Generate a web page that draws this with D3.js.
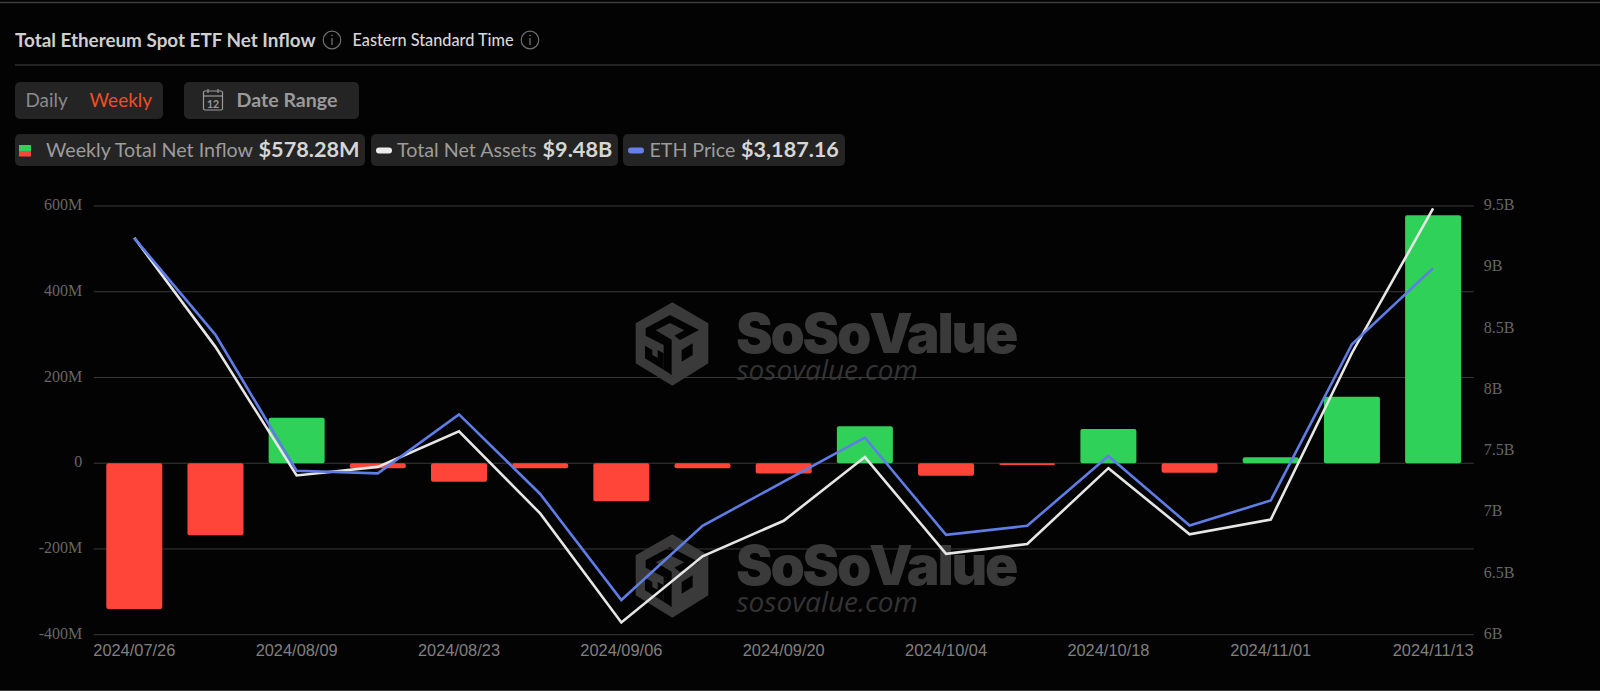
<!DOCTYPE html>
<html>
<head>
<meta charset="utf-8">
<script src="https://cdn.jsdelivr.net/npm/d3@7"></script>
<style>
    html, body { margin: 0; padding: 0; background: #030303; overflow: hidden; }
    svg { display: block; }
    .ui { font-family: Lato, sans-serif; }
</style>
</head>
<body>
<svg width="1600" height="691"></svg>
<script>
// values
var dates = ["2024/07/26", "2024/08/02", "2024/08/09", "2024/08/16", "2024/08/23", "2024/08/30",
    "2024/09/06", "2024/09/13", "2024/09/20", "2024/09/27", "2024/10/04", "2024/10/11",
    "2024/10/18", "2024/10/25", "2024/11/01", "2024/11/08", "2024/11/13"]
var netInflow = [-340, -168, 106, -12, -43, -12, -89, -12, -24, 86, -29, -4, 80, -22, 14, 155, 578.28]
var netAssets = [9.24, 8.35, 7.30, 7.37, 7.66, 6.99, 6.10, 6.64, 6.93, 7.45, 6.66, 6.74, 7.36, 6.82, 6.94, 8.30, 9.48]
var ethPrice = [3270, 3003, 2627, 2620, 2783, 2563, 2270, 2475, 2597, 2719, 2450, 2475, 2668, 2476, 2545, 2977, 3187.16]

var leftTicks = [-400, -200, 0, 200, 400, 600]
var rightTicks = [6, 6.5, 7, 7.5, 8, 8.5, 9, 9.5]
var priceDomain = [2174, 3359]  // the price axis is hidden in the original

var margin = { left: 93.7, right: 126.3, top: 206, bottom: 56.3 }
var width = 1600, height = 691

var svg = d3.select("svg")

var xScale = d3.scaleBand()
    .domain(dates)
    .range([margin.left, width - margin.right])
    .paddingInner(0.31)
    .paddingOuter(0.155)

var yLeft = d3.scaleLinear().domain([-400, 600]).range([height - margin.bottom, margin.top])
var yRight = d3.scaleLinear().domain([6, 9.5]).range([height - margin.bottom, margin.top])
var yPrice = d3.scaleLinear().domain(priceDomain).range([height - margin.bottom, margin.top])

function center(d) { return xScale(d) + xScale.bandwidth() / 2 }

// page frame
svg.append("line").attr("x1", 0).attr("x2", width).attr("y1", 2.5).attr("y2", 2.5).attr("stroke", "#3c3c3c").attr("stroke-width", 1.5)
svg.append("line").attr("x1", 0).attr("x2", width).attr("y1", 690.5).attr("y2", 690.5).attr("stroke", "#3c3c3c")

// header
var ui = svg.append("g").attr("class", "ui")

ui.append("text").attr("x", 15).attr("y", 46.5).attr("font-size", 18.85).attr("font-weight", 700)
    .attr("fill", "#cfcfcf").text("Total Ethereum Spot ETF Net Inflow")
ui.append("text").attr("x", 352.5).attr("y", 45.5).attr("font-size", 16.3).attr("font-weight", 500)
    .attr("fill", "#d8d8d8").text("Eastern Standard Time")

function infoIcon(cx, cy) {
    var g = ui.append("g").attr("fill", "none").attr("stroke", "#6f6f6f")
    g.append("circle").attr("cx", cx).attr("cy", cy).attr("r", 8.8).attr("stroke-width", 1.2)
    g.append("line").attr("x1", cx).attr("x2", cx).attr("y1", cy - 2).attr("y2", cy + 5).attr("stroke-width", 1.3)
    g.append("circle").attr("cx", cx).attr("cy", cy - 4.5).attr("r", 0.5)
}
infoIcon(332, 40)
infoIcon(530, 40)

ui.append("line").attr("x1", 15).attr("x2", width).attr("y1", 65).attr("y2", 65).attr("stroke", "#444")

function box(x, y, w, h) {
    ui.append("rect").attr("x", x).attr("y", y).attr("width", w).attr("height", h).attr("rx", 5).attr("fill", "#242424")
}
box(15, 82, 148, 37)
box(184, 82, 175, 37)
ui.append("text").attr("x", 25.5).attr("y", 107).attr("font-size", 18.9).attr("fill", "#8a8a8a").text("Daily")
ui.append("text").attr("x", 89.5).attr("y", 107).attr("font-size", 19).attr("fill", "#f04e23").text("Weekly")
ui.append("text").attr("x", 236.5).attr("y", 107).attr("font-size", 19.6).attr("font-weight", 700).attr("fill", "#9a9a9a").text("Date Range")

// calendar icon
var cal = ui.append("g").attr("fill", "none").attr("stroke", "#9a9a9a").attr("stroke-width", 1.2)
cal.append("rect").attr("x", 203.5).attr("y", 91).attr("width", 19).attr("height", 19).attr("rx", 1.5)
cal.append("line").attr("x1", 203.5).attr("x2", 222.5).attr("y1", 96).attr("y2", 96)
cal.append("line").attr("x1", 208).attr("x2", 208).attr("y1", 89).attr("y2", 93)
cal.append("line").attr("x1", 218).attr("x2", 218).attr("y1", 89).attr("y2", 93)
ui.append("text").attr("x", 213).attr("y", 107.5).attr("text-anchor", "middle").attr("font-size", 10.5).attr("font-weight", 700)
    .attr("fill", "#9a9a9a").text("12")

// legend chips
box(15, 134, 350, 32)
box(371, 134, 247, 32)
box(623, 134, 222, 32)

ui.append("rect").attr("x", 19).attr("y", 145).attr("width", 12).attr("height", 6).attr("fill", "#30d158")
ui.append("rect").attr("x", 19).attr("y", 151).attr("width", 12).attr("height", 5.5).attr("fill", "#ff453a")
ui.append("rect").attr("x", 376).attr("y", 147.5).attr("width", 16).attr("height", 6).attr("rx", 3).attr("fill", "#ececec")
ui.append("rect").attr("x", 628).attr("y", 147.5).attr("width", 16).attr("height", 6).attr("rx", 3).attr("fill", "#6580ea")

function chipText(x, label, size, bold) {
    ui.append("text").attr("x", x).attr("y", 157).attr("font-size", size)
        .attr("font-weight", bold ? 700 : 400)
        .attr("fill", bold ? "#d6d6d6" : "#9c9c9c")
        .text(label)
}
chipText(46, "Weekly Total Net Inflow", 19.7, false)
chipText(258.5, "$578.28M", 21.7, true)
chipText(397, "Total Net Assets", 19.7, false)
chipText(542.5, "$9.48B", 21.7, true)
chipText(649.5, "ETH Price", 19.6, false)
chipText(741, "$3,187.16", 21.6, true)

// watermarks
function watermark(dy) {
    var g = svg.append("g").attr("transform", "translate(0," + dy + ")")
    var p = [[142, 22], [250, 85], [250, 205], [142, 272], [32, 205], [32, 85]]
    var toPage = function(q) { return [625 + q[0] / 3, 295 + q[1] / 3] }
    var line = d3.line()
    g.append("path").attr("d", line(p.map(toPage)) + "Z").attr("fill", "#3a3a3a")
    var cuts = [
        [[62, 100], [135, 60], [222, 105], [165, 135], [148, 122], [178, 106], [135, 84], [92, 106], [140, 134], [140, 240], [116, 224], [116, 150], [62, 122]],
        [[170, 165], [203, 145], [203, 180], [170, 200]],
        [[60, 152], [82, 165], [82, 180], [98, 188], [98, 165], [116, 175], [116, 224], [60, 190]]
    ]
    cuts.forEach(function(c) {
        g.append("path").attr("d", line(c.map(toPage)) + "Z").attr("fill", "#030303")
    })
    g.append("text").attr("x", 736).attr("y", 352.5)
        .attr("font-family", "Inter, sans-serif").attr("font-weight", 900).attr("font-size", 55)
        .attr("letter-spacing", -2.2).attr("word-spacing", -9).attr("fill", "#3a3a3a").text("SoSo Value")
    g.append("text").attr("x", 736.5).attr("y", 380)
        .attr("font-family", "'Open Sans', sans-serif").attr("font-style", "italic").attr("font-size", 28)
        .attr("fill", "#333").text("sosovalue.com")
}
watermark(0)
watermark(232)

// grid
svg.append("g").selectAll("line")
    .data(leftTicks)
    .enter()
    .append("line")
    .attr("x1", margin.left)
    .attr("x2", width - margin.right)
    .attr("y1", function(d) { return yLeft(d) })
    .attr("y2", function(d) { return yLeft(d) })
    .attr("stroke", "#3a3a3a")

// axes
var axisLeft = svg.append("g")
    .attr("transform", "translate(" + (margin.left - 2) + ",-1.5)")
    .call(d3.axisLeft(yLeft).tickValues(leftTicks).tickSize(0).tickPadding(9.5)
        .tickFormat(function(d) { return d === 0 ? "0" : d + "M" }))
var axisRight = svg.append("g")
    .attr("transform", "translate(" + (width - margin.right) + ",-1.5)")
    .call(d3.axisRight(yRight).tickValues(rightTicks).tickSize(0).tickPadding(10)
        .tickFormat(function(d) { return d + "B" }))
var axisBottom = svg.append("g")
    .attr("transform", "translate(0," + (height - margin.bottom + 7) + ")")
    .call(d3.axisBottom(xScale).tickValues(dates.filter(function(d, i) { return i % 2 === 0 })).tickSize(0).tickPadding(3))

axisLeft.select(".domain").remove()
axisRight.select(".domain").remove()
axisBottom.select(".domain").remove()

axisLeft.selectAll("text").attr("font-family", "'Liberation Serif', serif").attr("font-size", 16).attr("fill", "#666")
axisRight.selectAll("text").attr("font-family", "'Liberation Serif', serif").attr("font-size", 16).attr("fill", "#666")
axisBottom.selectAll("text").attr("font-family", "'Liberation Sans', sans-serif").attr("font-size", 16.4).attr("fill", "#808080")

// bars
svg.append("g").selectAll("path")
    .data(dates)
    .enter()
    .append("rect")
    .attr("x", function(d) { return xScale(d) })
    .attr("width", xScale.bandwidth())
    .attr("y", function(d, i) { return yLeft(Math.max(0, netInflow[i])) })
    .attr("height", function(d, i) { return Math.abs(yLeft(netInflow[i]) - yLeft(0)) })
    .attr("rx", 2)
    .attr("fill", function(d, i) { return netInflow[i] >= 0 ? "#30d158" : "#ff453a" })

// lines
var assetLine = d3.line()
    .x(function(d, i) { return center(dates[i]) })
    .y(function(d) { return yRight(d) })
var priceLine = d3.line()
    .x(function(d, i) { return center(dates[i]) })
    .y(function(d) { return yPrice(d) })

svg.append("path").attr("d", assetLine(netAssets)).attr("fill", "none").attr("stroke", "#e6e6e6").attr("stroke-width", 2.6)
svg.append("path").attr("d", priceLine(ethPrice)).attr("fill", "none").attr("stroke", "#5f7de6").attr("stroke-width", 2.6)
</script>
</body>
</html>
